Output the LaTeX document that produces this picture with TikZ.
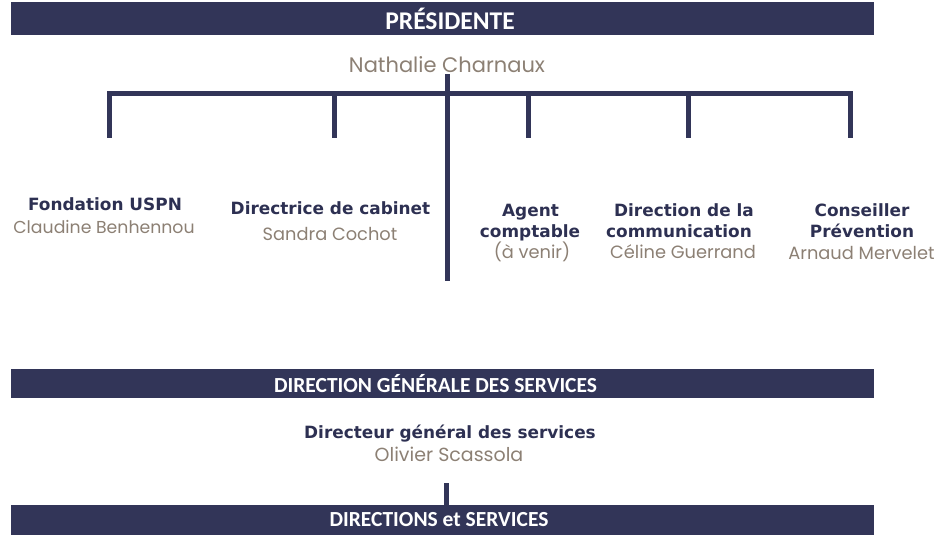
\documentclass[tikz,border=0pt]{standalone}
\usepackage{fontspec}
\newfontfamily\barfont{Carlito}
\newfontfamily\rolefont{DejaVu Sans}
\newfontfamily\namefont{Poppins}
\definecolor{navy}{RGB}{50,53,88}
\definecolor{labelnavy}{RGB}{45,48,82}
\definecolor{namegray}{RGB}{140,128,116}
\tikzset{
  bar/.style={fill=navy, draw=none, minimum width=863pt, inner sep=0pt},
  bartext/.style={text=white, inner sep=0pt, font=\barfont\bfseries\fontsize{21.5}{24}\selectfont},
  role/.style={anchor=base, inner sep=0pt, text=labelnavy, font=\rolefont\bfseries\fontsize{16.9}{20}\selectfont},
  person/.style={anchor=base, inner sep=0pt, text=namegray, font=\namefont\fontsize{17.8}{20}\selectfont},
  link/.style={draw=navy, line width=5pt},
}
\begin{document}
\begin{tikzpicture}[x=1pt,y=-1pt]
\useasboundingbox (0,0) rectangle (936,535);
% bars
\node[bar, minimum height=33pt] (presbar) at (442.5,18.5) {};
\node[bartext, font=\barfont\bfseries\fontsize{25.5}{28}\selectfont] (prestxt) at (450,19) {PRÉSIDENTE};
\node[bar, minimum height=29pt] (dgsbar) at (442.5,383.5) {};
\node[bartext] (dgstxt) at (435.5,383.5) {DIRECTION GÉNÉRALE DES SERVICES};
\node[bar, minimum height=30pt] (dirbar) at (442.5,520) {};
\node[bartext] (dirtxt) at (439,519.5) {DIRECTIONS et SERVICES};
% president
\node[person, font=\namefont\fontsize{21}{24}\selectfont] (pres) at (447,73) {Nathalie Charnaux};
% tree
\coordinate (ctop) at (447.5,74);
\coordinate (cbot) at (447.5,281);
\coordinate (hl) at (107,93.5);
\coordinate (hr) at (853,93.5);
\draw[link] (ctop) -- (cbot);
\draw[link] (hl) -- (hr);
\foreach \x/\n in {109.5/a,334.5/b,528.5/c,688/d,850.5/e}{
  \coordinate (t\n) at (\x,91);
  \coordinate (b\n) at (\x,138);
  \draw[link] (t\n) -- (b\n);
}
% labels
\node[role] (r1) at (105,210) {Fondation USPN};
\node[person, font=\namefont\fontsize{17.3}{20}\selectfont] (p1) at (104,233) {Claudine Benhennou};
\node[role] (r2) at (330.5,214) {Directrice de cabinet};
\node[person] (p2) at (330,240) {Sandra Cochot};
\node[role] (r3a) at (530.5,216) {Agent};
\node[role] (r3b) at (530,237) {comptable};
\node[person] (p3) at (532,258) {(à venir)};
\node[role] (r4a) at (684,216) {Direction de la};
\node[role] (r4b) at (679,237) {communication};
\node[person] (p4) at (683,258) {Céline Guerrand};
\node[role] (r5a) at (862,216) {Conseiller};
\node[role] (r5b) at (862,237) {Prévention};
\node[person] (p5) at (861.5,259) {Arnaud Mervelet};
% DGS
\node[role] (dg) at (450,438) {Directeur général des services};
\node[person, font=\namefont\fontsize{19}{22}\selectfont] (dgp) at (449,461) {Olivier Scassola};
\draw[link] (446.5,483) coordinate (dgl) -- (dirbar.north -| dgl);
\end{tikzpicture}
\end{document}
